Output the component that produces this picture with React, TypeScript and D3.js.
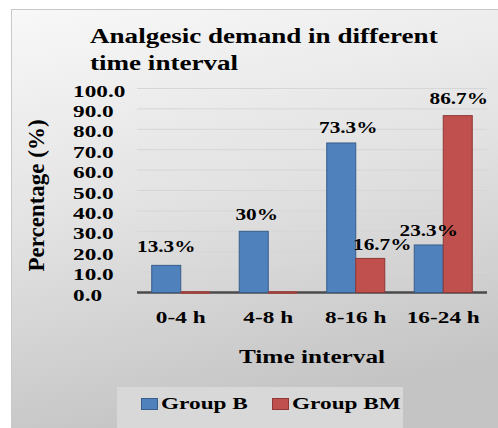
import React from "react";
import * as d3 from "d3";

const categories = ["0-4 h", "4-8 h", "8-16 h", "16-24 h"];
const seriesNames = ["Group B", "Group BM"];
const groupB = [13.3, 30, 73.3, 23.3];
const groupBM = [0, 0, 16.7, 86.7];
const labelsB = ["13.3%", "30%", "73.3%", "23.3%"];
const labelsBM = ["", "", "16.7%", "86.7%"];
const yTicks = [0, 10, 20, 30, 40, 50, 60, 70, 80, 90, 100];
const titleLines = ["Analgesic demand in different", "time interval"];
const xTitle = "Time interval";
const yTitle = "Percentage (%)";

// manual label nudges (as placed in the original chart)
const nudgeB = [[0, -3], [3, -1], [7, 0], [0, 1]];
const nudgeBM = [[0, 0], [0, 0], [12, 2], [1, -2]];

const W = 498;
const H = 428;
const SX = 1.33;
const FONT = '"Liberation Serif", Tinos, "Times New Roman", Times, "DejaVu Serif", serif';
const COLORS = ["#4F81BD", "#C0504D"];
const STROKES = ["#385D8A", "#8C3836"];

function ST({ x, y, size, anchor = "start", children, sx = SX }: any) {
  return (
    <text
      transform={`translate(${x},${y}) scale(${sx},1)`}
      style={{ fontFamily: FONT, fontWeight: 700, fontSize: size }}
      textAnchor={anchor}
      fill="#000"
    >
      {children}
    </text>
  );
}

export default function App() {
  const x0 = d3.scaleBand<string>().domain(categories).range([137, 487]).paddingInner(0.337).paddingOuter(0.1685);
  const x1 = d3.scaleBand<string>().domain(seriesNames).range([0, x0.bandwidth()]).padding(0);
  const y = d3.scaleLinear().domain([0, 100]).range([292.5, 88.5]);
  const series = [groupB, groupBM];
  const labels = [labelsB, labelsBM];
  const nudges = [nudgeB, nudgeBM];

  return (
    <svg width={W} height={H} style={{ position: "fixed", left: 0, top: 0 }}>
      <defs>
        <linearGradient id="bg" x1="0" y1="0" x2="0.25" y2="1">
          <stop offset="0" stopColor="#f8f8f8" />
          <stop offset="0.5" stopColor="#e2e2e2" />
          <stop offset="1" stopColor="#c4c4c4" />
        </linearGradient>
      </defs>
      <rect x={0} y={0} width={W} height={H} fill="#fff" />
      <rect x={11.5} y={9.5} width={W} height={H} fill="url(#bg)" stroke="#c8c8c8" />

      {/* title */}
      {titleLines.map((t, i) => (
        <ST key={t} x={90} y={43 + i * 27} size={21} sx={1.29}>{t}</ST>
      ))}

      {/* gridlines */}
      {yTicks.filter((t) => t > 0).map((t) => (
        <line key={t} x1={137} x2={487} y1={y(t)} y2={y(t)} stroke="#d6d6d6" strokeWidth={1} />
      ))}

      {/* y tick labels */}
      {yTicks.map((t) => (
        <ST key={t} x={73} y={y(t) + 8} size={17.5}>{t.toFixed(1)}</ST>
      ))}

      {/* axis line */}
      <line x1={137} x2={487} y1={y(0)} y2={y(0)} stroke="#4a4a4a" strokeWidth={2.5} />

      {/* bars */}
      {categories.map((c, ci) => (
        <g key={c} transform={`translate(${x0(c)},0)`}>
          {series.map((s, si) => {
            const v = s[ci];
            const zero = v <= 0;
            return (
              <rect
                key={si}
                x={x1(seriesNames[si])}
                y={zero ? y(0) - 1.25 : y(v)}
                width={x1.bandwidth()}
                height={zero ? 2.5 : y(0) - y(v)}
                fill={zero ? "#a5403d" : COLORS[si]}
                stroke={STROKES[si]}
                strokeWidth={zero ? 0 : 1}
              />
            );
          })}
        </g>
      ))}

      {/* data labels */}
      {categories.map((c, ci) =>
        series.map((s, si) =>
          labels[si][ci] ? (
            <ST
              key={`${ci}-${si}`}
              x={(x0(c) as number) + (x1(seriesNames[si]) as number) + x1.bandwidth() / 2 + nudges[si][ci][0]}
              y={y(s[ci]) - 10 + nudges[si][ci][1]}
              size={16}
              anchor="middle"
            >
              {labels[si][ci]}
            </ST>
          ) : null
        )
      )}

      {/* x tick labels */}
      {categories.map((c) => (
        <ST key={c} x={(x0(c) as number) + x0.bandwidth() / 2} y={323} size={17.5} anchor="middle">{c}</ST>
      ))}

      {/* axis titles */}
      <text
        transform="translate(43.5,195.5) rotate(-90)"
        style={{ fontFamily: FONT, fontWeight: 700, fontSize: 23 }}
        textAnchor="middle"
        fill="#000"
      >
        {yTitle}
      </text>
      <ST x={312} y={363} size={19} anchor="middle">{xTitle}</ST>

      {/* legend */}
      <rect x={117} y={387} width={286} height={50} fill="#d8d8d8" />
      {seriesNames.map((n, i) => {
        const lx = [141, 272][i];
        return (
          <g key={n}>
            <rect x={lx + 0.5} y={398.5} width={16} height={11} fill={COLORS[i]} stroke={STROKES[i]} />
            <ST x={lx + 20} y={409} size={17.5}>{n}</ST>
          </g>
        );
      })}
    </svg>
  );
}
